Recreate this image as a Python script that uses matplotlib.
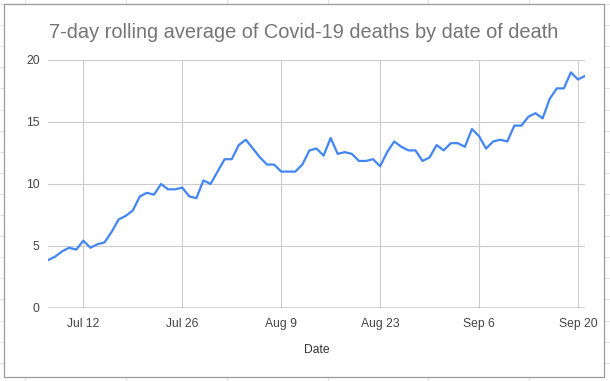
import matplotlib
matplotlib.use("Agg")
import matplotlib.pyplot as plt
from matplotlib.lines import Line2D
from matplotlib.patches import Rectangle
import pandas as pd

# ---- data ----
start_date = "2020-07-07"
deaths_7day = [3.86, 4.14, 4.57, 4.86, 4.71, 5.43, 4.86, 5.14, 5.29, 6.14,
               7.14, 7.43, 7.86, 9.00, 9.29, 9.14, 10.00, 9.57, 9.57, 9.71,
               9.00, 8.86, 10.29, 10.00, 11.00, 12.00, 12.00, 13.14, 13.57, 12.86,
               12.14, 11.57, 11.57, 11.00, 11.00, 11.00, 11.57, 12.71, 12.86, 12.29,
               13.71, 12.43, 12.57, 12.43, 11.86, 11.86, 12.00, 11.43, 12.57, 13.43,
               13.00, 12.71, 12.71, 11.86, 12.14, 13.14, 12.71, 13.29, 13.29, 13.00,
               14.43, 13.86, 12.86, 13.43, 13.57, 13.43, 14.71, 14.71, 15.43, 15.71,
               15.29, 16.86, 17.71, 17.71, 19.00, 18.43, 18.71]
tick_dates = ["2020-07-12", "2020-07-26", "2020-08-09", "2020-08-23", "2020-09-06", "2020-09-20"]
tick_labels = ["Jul 12", "Jul 26", "Aug 9", "Aug 23", "Sep 6", "Sep 20"]
y_ticks = [0, 5, 10, 15, 20]
title = "7-day rolling average of Covid-19 deaths by date of death"
x_label = "Date"

dates = pd.date_range(start_date, periods=len(deaths_7day), freq="D")

W, H = 610, 381
plt.rcParams["font.family"] = ["Liberation Sans", "DejaVu Sans"]
fig = plt.figure(figsize=(W / 100, H / 100), dpi=100)

def fx(px):
    return px / W

def fy(py):
    return 1 - py / H

# spreadsheet grid behind the chart
sheet_col = "#e2e2e2"
k = 0
while 4 + 21.1 * k < H:
    y = 4 + 21.1 * k
    fig.add_artist(Line2D([0, 1], [fy(y), fy(y)], color=sheet_col, lw=0.8, zorder=0))
    k += 1
for x in [25, 126, 227, 328, 428, 529]:
    fig.add_artist(Line2D([fx(x), fx(x)], [0, 1], color=sheet_col, lw=0.8, zorder=0))

# chart frame
fig.add_artist(Rectangle((fx(3.5), fy(376.5)), fx(604) - fx(3.5), fy(4) - fy(376.5),
                         facecolor="white", edgecolor="#9a9a9a", lw=0.9, zorder=1))

left, right, top, bottom = 48, 585, 60, 308
ax = fig.add_axes([fx(left), fy(bottom), fx(right) - fx(left), fy(top) - fy(bottom)], zorder=2)
ax.set_facecolor("none")

ax.plot(dates, deaths_7day, color="#4285f4", lw=1.6, zorder=3, solid_joinstyle="round")

ax.set_xlim(dates[0], dates[-1])
ax.set_ylim(0, 20)
ax.set_yticks(y_ticks)
ax.set_yticklabels([str(v) for v in y_ticks])
ax.set_xticks(pd.to_datetime(tick_dates))
ax.set_xticklabels(tick_labels)
ax.grid(True, color="#cccccc", lw=0.8)
ax.set_axisbelow(True)
for s in ax.spines.values():
    s.set_visible(False)
ax.axhline(0, color="#333333", lw=1.0, zorder=2.5)
ax.tick_params(length=0, labelsize=8.7, colors="#444444")
ax.tick_params(axis="y", pad=6)
ax.tick_params(axis="x", pad=7)

fig.text(fx(304), fy(33), title, ha="center", va="center", fontsize=14.4, color="#757575")
fig.text(fx(316.5), fy(350), x_label, ha="center", va="center", fontsize=8.7, color="#333333")

fig.savefig("out.png", dpi=100)
